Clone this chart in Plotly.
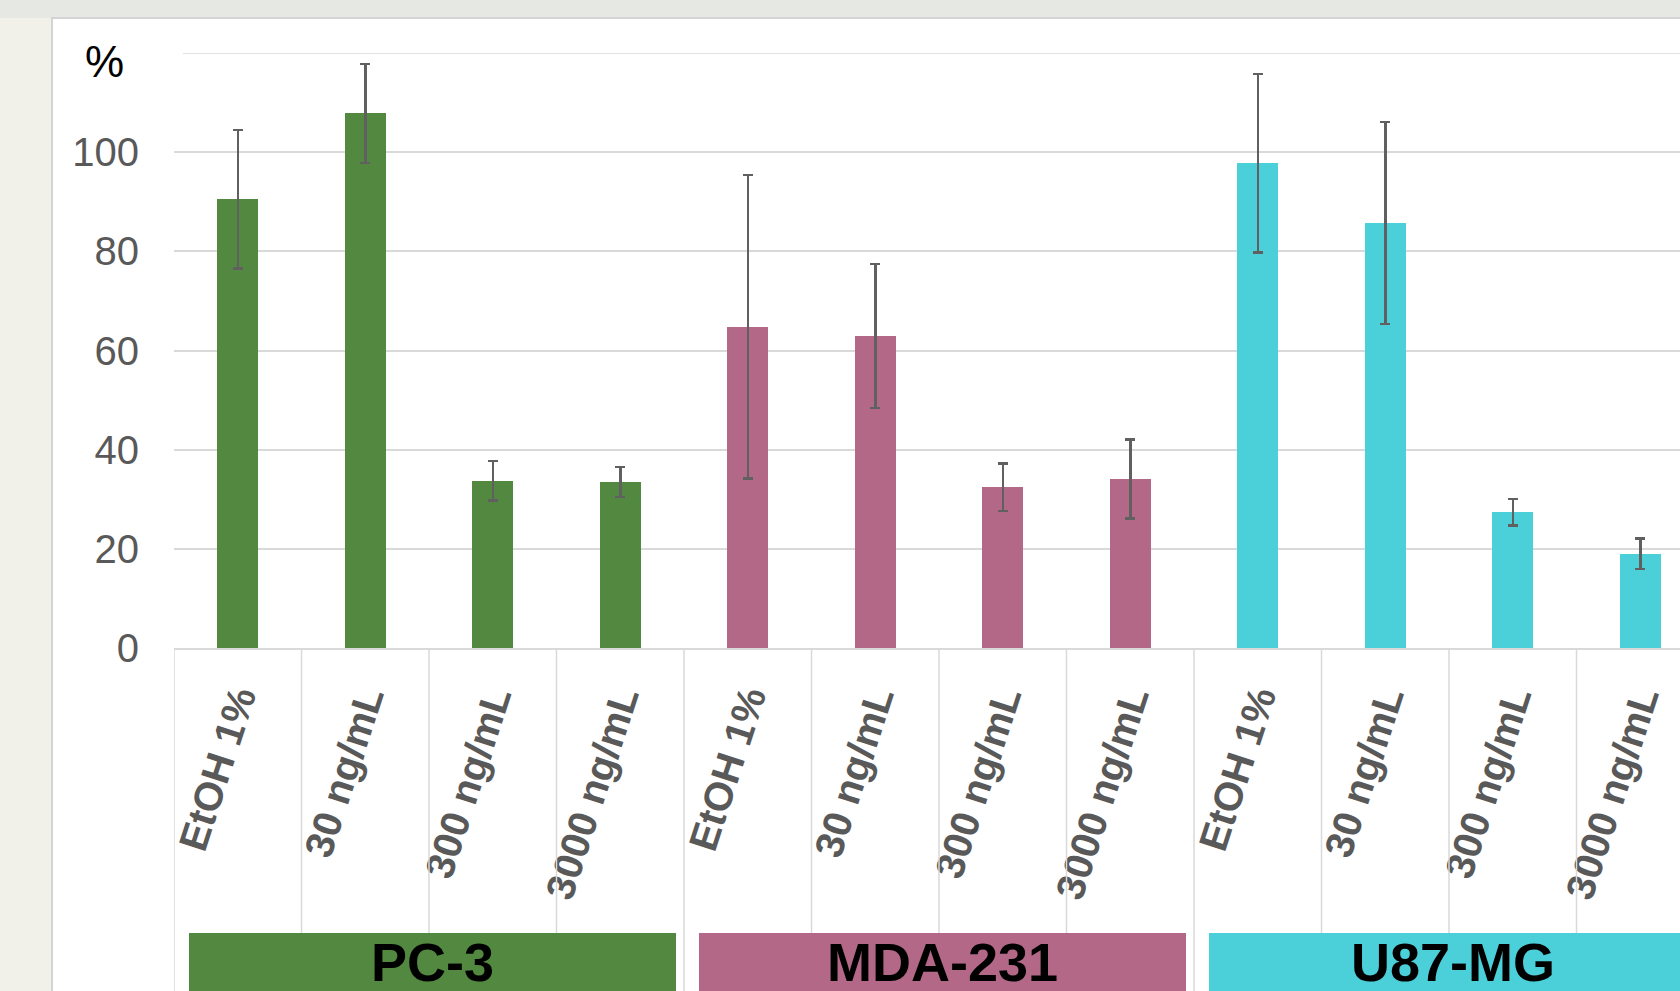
import plotly.graph_objects as go

# ---- data ----
groups = ["PC-3", "MDA-231", "U87-MG"]
conditions = ["EtOH 1%", "30 ng/mL", "300 ng/mL", "3000 ng/mL"]
pc3_values = [90.5, 107.8, 33.7, 33.5]
pc3_errors = [14.0, 10.0, 4.0, 3.0]
mda_values = [64.8, 62.9, 32.4, 34.1]
mda_errors = [30.6, 14.5, 4.8, 8.0]
u87_values = [97.8, 85.7, 27.4, 19.0]
u87_errors = [18.0, 20.4, 2.7, 3.1]
y_ticks = [0, 20, 40, 60, 80, 100]
y_top = 120
colors = ["#52883f", "#b46888", "#4bcfd9"]

W, H = 1680, 991
left, top, bottom = 174, 53, 343
cat_px = 127.5
plot_w = W - left
n_vis = plot_w / cat_px

fig = go.Figure()
series = [pc3_values, mda_values, u87_values]
errs = [pc3_errors, mda_errors, u87_errors]
n = len(conditions)
for gi, (vals, er) in enumerate(zip(series, errs)):
    xs = [gi * n + i for i in range(n)]
    fig.add_trace(go.Bar(
        x=xs, y=vals, width=0.32,
        marker=dict(color=colors[gi], line=dict(width=0)),
        error_y=dict(type="data", array=er, visible=True,
                     color="#606060", thickness=2.5, width=5),
        showlegend=False,
    ))

tickvals = list(range(n * len(groups)))
ticktext = conditions * len(groups)

plot_h = H - top - bottom
def py(pix):
    return (H - bottom - pix) / plot_h

def pxx(pix):
    return (pix - left) / plot_w

shapes = []
# background strip at top
shapes.append(dict(type="rect", xref="paper", yref="paper",
                   x0=pxx(0), x1=pxx(W), y0=py(18), y1=py(0),
                   fillcolor="#e5e8e3", line=dict(width=0), layer="below"))
# white panel
shapes.append(dict(type="rect", xref="paper", yref="paper",
                   x0=pxx(52), x1=pxx(W + 20), y0=py(H + 20), y1=py(18),
                   fillcolor="white", line=dict(color="#d4d4d4", width=2), layer="below"))
# top gridline (120)
shapes.append(dict(type="line", xref="x", yref="y",
                   x0=-0.5 + 9 / cat_px, x1=len(tickvals) - 0.5, y0=y_top, y1=y_top,
                   line=dict(color="#d9d9d9", width=1.5), layer="below"))
# category separators
for b in range(len(tickvals) + 1):
    xb = b - 0.5
    full = (b % n == 0)
    shapes.append(dict(type="line", xref="x", yref="paper",
                       x0=xb, x1=xb, y0=py(H + 5) if full else py(933), y1=0,
                       line=dict(color="#d9d9d9", width=1.5)))
# group bands
annotations = []
for gi, g in enumerate(groups):
    x0 = gi * n - 0.5 + 15 / cat_px
    x1 = (gi + 1) * n - 0.5 - 8 / cat_px
    shapes.append(dict(type="rect", xref="x", yref="paper",
                       x0=x0, x1=x1, y0=py(H + 30), y1=py(933),
                       fillcolor=colors[gi], line=dict(width=0)))
    annotations.append(dict(x=(x0 + x1) / 2, y=py(962), xref="x", yref="paper",
                            text="<b>" + g + "</b>", showarrow=False,
                            font=dict(family="Liberation Sans, Arial", size=54, color="black"),
                            xanchor="center", yanchor="middle"))
annotations.append(dict(x=pxx(104), y=py(62), xref="paper", yref="paper",
                        text="%", showarrow=False,
                        font=dict(family="Liberation Sans, Arial", size=44, color="black"),
                        xanchor="center", yanchor="middle"))

fig.update_layout(
    width=W, height=H,
    margin=dict(l=left, r=0, t=top, b=bottom, pad=0),
    paper_bgcolor="#f1f1ea", plot_bgcolor="white",
    bargap=0, shapes=shapes, annotations=annotations,
    font=dict(family="Liberation Sans, Arial"),
)
fig.update_xaxes(
    range=[-0.5, -0.5 + n_vis], tickvals=tickvals,
    ticktext=["<b>" + t + "</b>" for t in ticktext],
    tickangle=-72, tickfont=dict(size=40, color="#595959", family="Liberation Sans, Arial"),
    showgrid=False, zeroline=False, showline=True, linecolor="#d9d9d9", linewidth=1.5,
    ticks="", ticklabelstandoff=9,
)
fig.update_yaxes(
    range=[0, y_top], tickvals=y_ticks, ticktext=[str(v) for v in y_ticks],
    tickfont=dict(size=40, color="#595959", family="Liberation Sans, Arial"),
    showgrid=True, gridcolor="#d9d9d9", gridwidth=1.5, zeroline=False,
    showline=False, ticks="", ticklabelstandoff=34,
)

fig.write_html("out.html",
               config={"displayModeBar": False},
               post_script="document.body.style.margin='0';document.body.style.overflow='hidden';")
